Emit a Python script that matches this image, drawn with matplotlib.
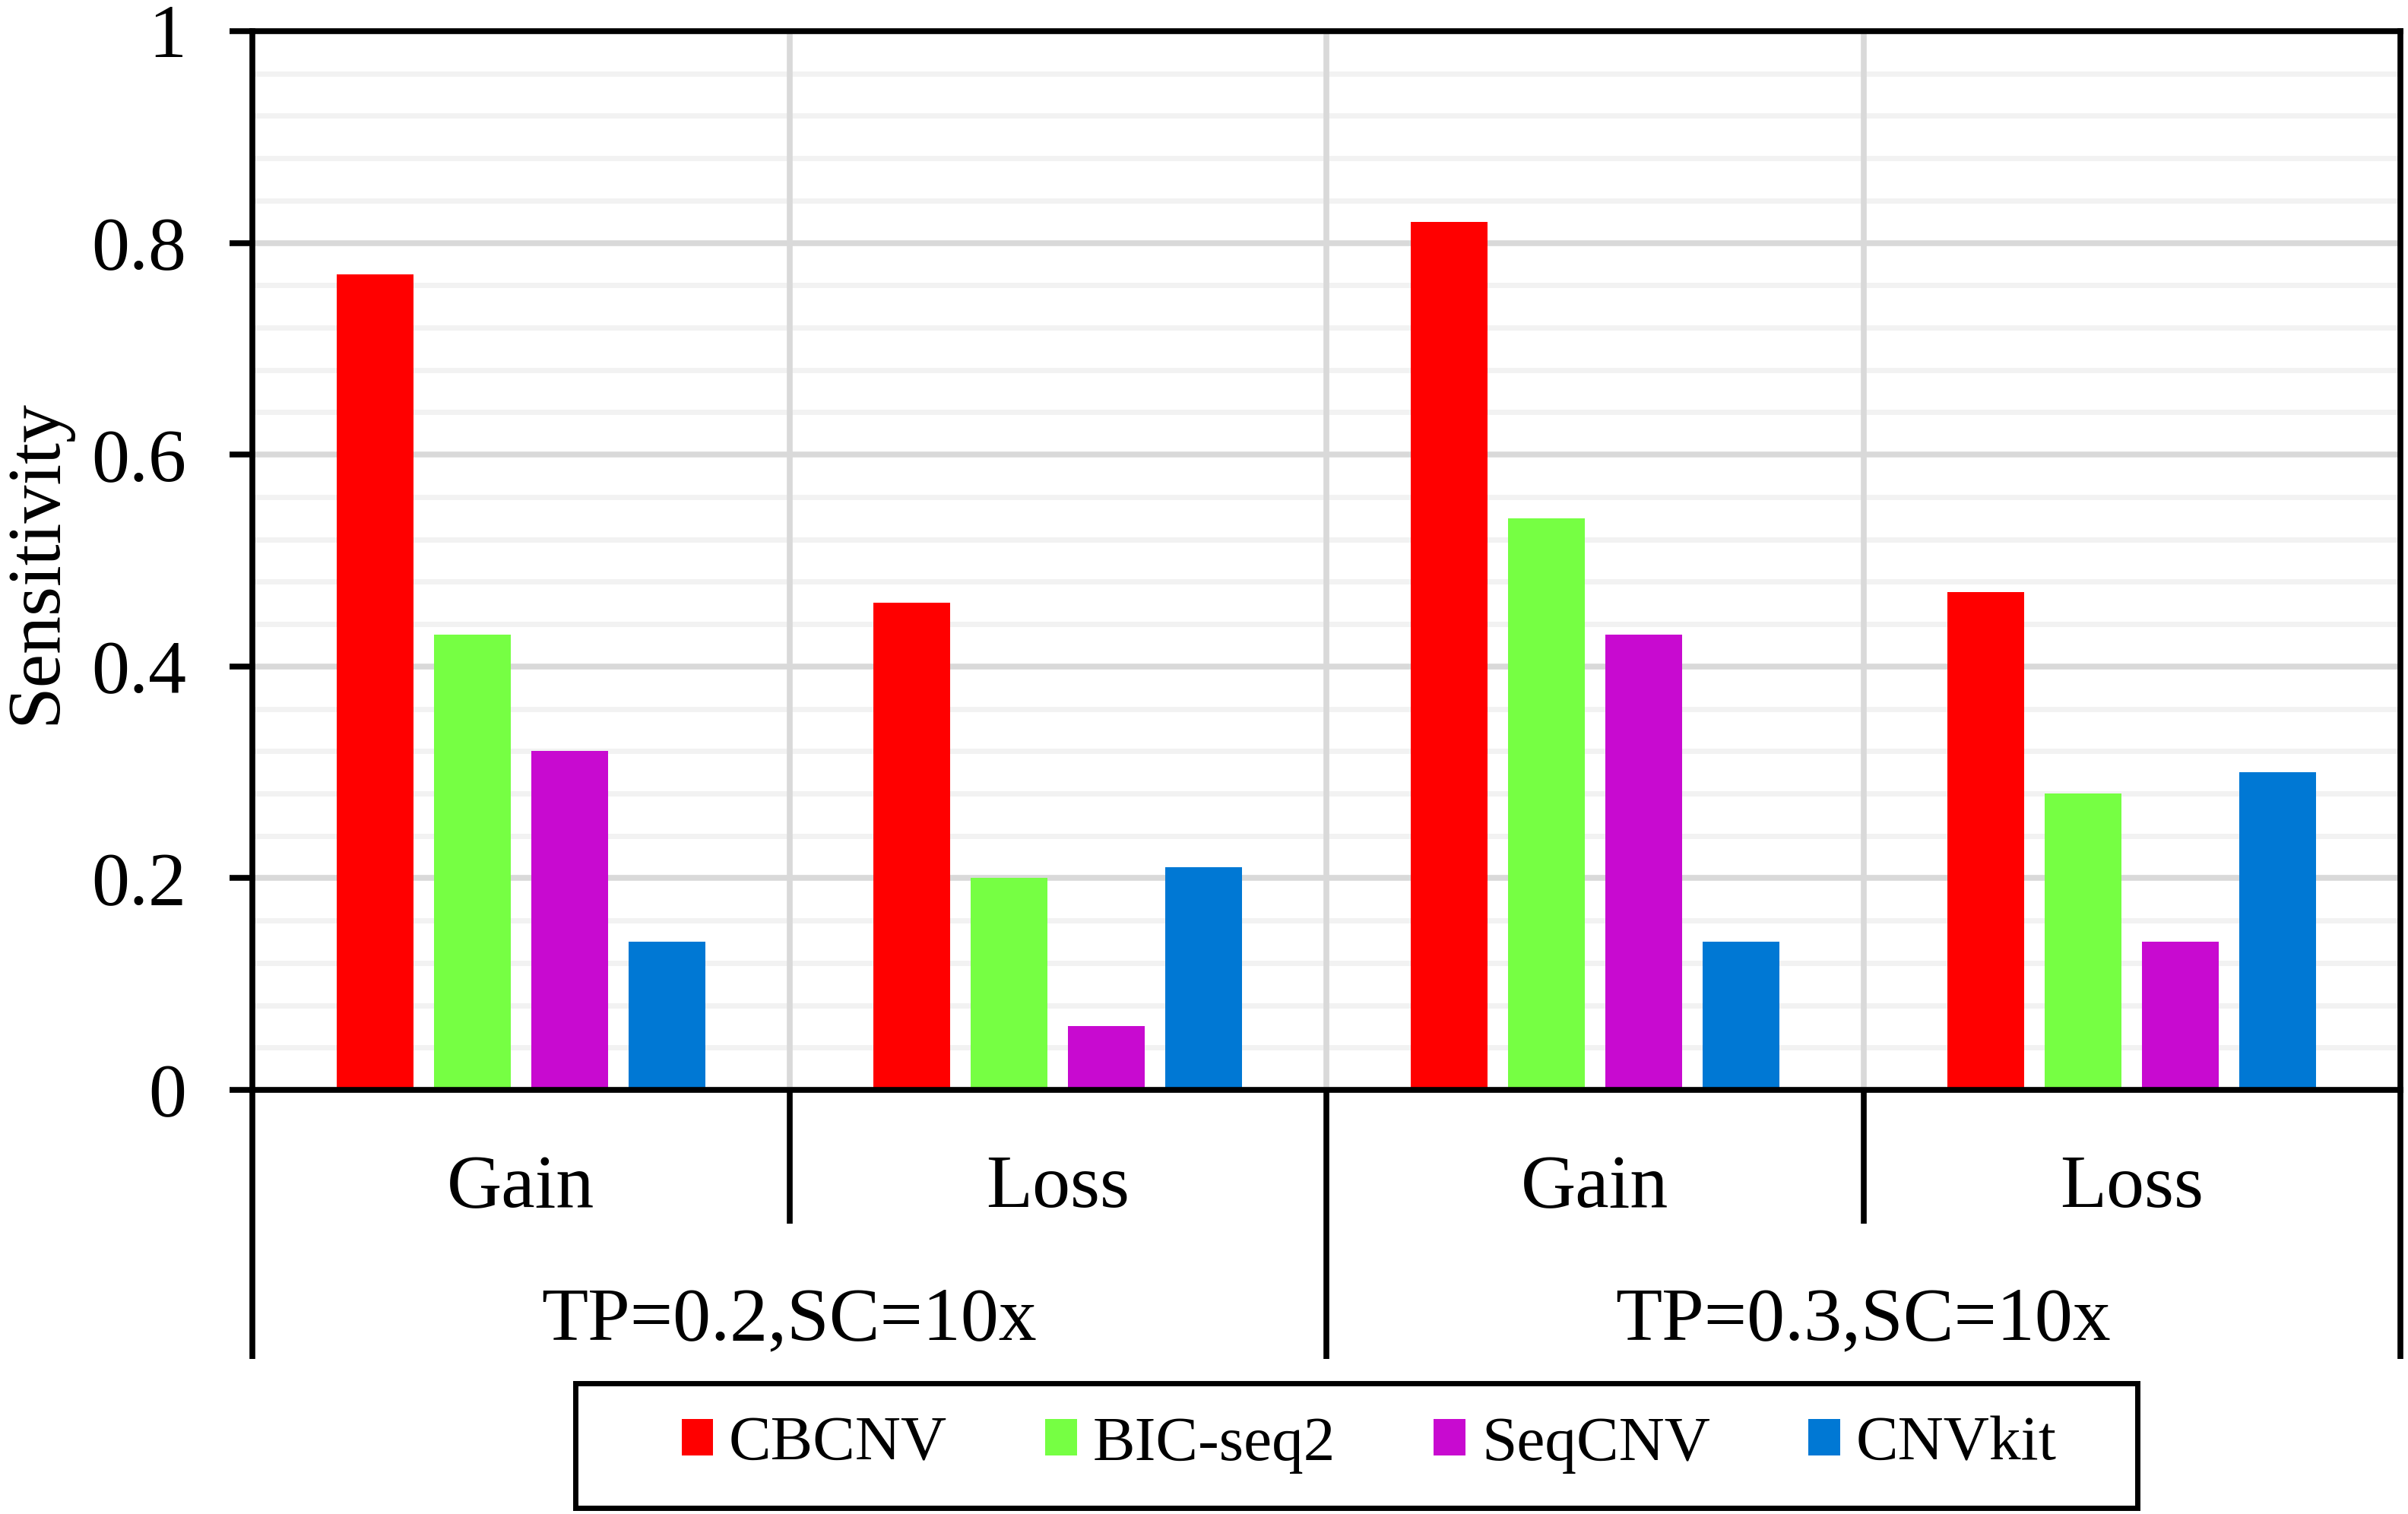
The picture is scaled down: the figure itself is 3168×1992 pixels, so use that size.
import numpy as np
import matplotlib
matplotlib.use('Agg')
import matplotlib.pyplot as plt
import matplotlib.transforms as mtransforms
from matplotlib.patches import Patch, Rectangle

plt.rcParams['font.family'] = ['Liberation Serif', 'DejaVu Serif']

# Data
categories = ['Gain', 'Loss', 'Gain', 'Loss']
groups = ['TP=0.2,SC=10x', 'TP=0.3,SC=10x']
methods = ['CBCNV', 'BIC-seq2', 'SeqCNV', 'CNVkit']
cbcnv = [0.77, 0.46, 0.82, 0.47]
bicseq2 = [0.43, 0.20, 0.54, 0.28]
seqcnv = [0.32, 0.06, 0.43, 0.14]
cnvkit = [0.14, 0.21, 0.14, 0.30]
colors = ['#FF0000', '#76FF43', '#C80AD0', '#0078D4']

series = [cbcnv, bicseq2, seqcnv, cnvkit]

W, H = 3168, 1992
fig = plt.figure(figsize=(W / 100, H / 100), dpi=100)
ax = fig.add_axes([332 / W, 1 - 1434 / H, (3158 - 332) / W, (1434 - 41) / H])

x = np.arange(len(categories))
bar_w = 0.143
step = 0.181
for i, (vals, col) in enumerate(zip(series, colors)):
    ax.bar(x + (i - 1.5) * step, vals, width=bar_w, color=col, zorder=3)

ax.set_xlim(-0.5, len(categories) - 0.5)
ax.set_ylim(0, 1)

# y axis ticks and grid
ax.set_yticks(np.arange(0, 1.01, 0.2))
ax.set_yticklabels(['0', '0.2', '0.4', '0.6', '0.8', '1'])
minor = [v for v in np.arange(0, 1.001, 0.04) if abs(v / 0.2 - round(v / 0.2)) > 1e-6]
ax.set_yticks(minor, minor=True)
ax.tick_params(axis='y', which='major', direction='out', length=21.6, width=5.5,
               pad=41, labelsize=72)
ax.tick_params(axis='y', which='minor', length=0)
ax.grid(axis='y', which='major', color='#D9D9D9', linewidth=5.5)
ax.grid(axis='y', which='minor', color='#F2F2F2', linewidth=5)

# vertical separators between categories
ax.set_xticks([])
ax.set_xticks(x[:-1] + 0.5, minor=True)
ax.tick_params(axis='x', which='minor', length=0)
ax.grid(axis='x', which='minor', color='#D9D9D9', linewidth=5.5)

for s in ax.spines.values():
    s.set_linewidth(5.5)
    s.set_color('black')
    s.set_zorder(4)
ax.set_axisbelow(True)
# vertical grid lines sit over the light horizontal ones
ax.yaxis.set_zorder(0.5)
ax.xaxis.set_zorder(1)

# two-level category axis below the plot
trans = mtransforms.blended_transform_factory(ax.transData, ax.transAxes)
for xi, lab in zip(x, categories):
    ax.text(xi, -0.1106, lab, transform=trans, ha='center', va='baseline', fontsize=72)
for xb in x[:-1] + 0.5:
    if int(round(xb - 0.5)) % 2 == 0:
        ax.plot([xb, xb], [0, -0.126], transform=trans, color='black', lw=5.5,
                clip_on=False, solid_capstyle='butt')
n_per_group = len(categories) // len(groups)
for g, lab in enumerate(groups):
    lo = g * n_per_group - 0.5
    hi = lo + n_per_group
    ax.text((lo + hi) / 2, -0.236, lab, transform=trans, ha='center', va='baseline',
            fontsize=72)
for g in range(len(groups) + 1):
    xb = g * n_per_group - 0.5
    ax.plot([xb, xb], [0, -0.254], transform=trans, color='black', lw=5.5,
            clip_on=False, solid_capstyle='butt')

fig.text(72 / W, 1 - 739 / H, 'Sensitivity', rotation=90, rotation_mode='anchor',
         ha='center', va='baseline', fontsize=72)

# legend with a separate box
handles = [Patch(facecolor=c, edgecolor='none') for c in colors]
fig.legend(handles, methods, loc='center', bbox_to_anchor=(1801 / W, 1 - 1901 / H),
           ncol=4, frameon=False, fontsize=60, handlelength=0.5, handleheight=0.5,
           handletextpad=0.25, columnspacing=1.55, borderpad=0)
fig.patches.append(Rectangle((757 / W, 1 - 1984 / H), (2812 - 757) / W, (1984 - 1820) / H,
                             transform=fig.transFigure, fill=False, edgecolor='black',
                             linewidth=5))

fig.savefig('out.png', dpi=100)
